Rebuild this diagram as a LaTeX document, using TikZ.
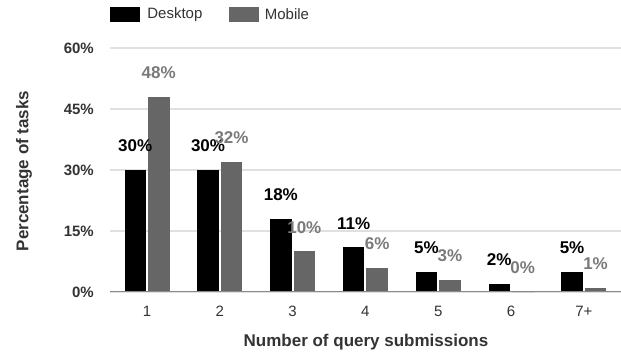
\documentclass[tikz,border=0pt]{standalone}
\usepackage{fontspec}
\setmainfont{Liberation Sans}
\usepackage{tikz}
\usetikzlibrary{positioning}

\definecolor{mobilegray}{HTML}{666666}
\definecolor{labelgray}{HTML}{7A7A7A}
\definecolor{gridgray}{HTML}{E0E0E0}
\definecolor{axisgray}{HTML}{8A8A8A}
\definecolor{textgray}{HTML}{333333}

\tikzset{
  ticklabel/.style={font=\bfseries\fontsize{15}{15}\selectfont, text=textgray, anchor=east, inner sep=0pt},
  catlabel/.style={font=\fontsize{15}{15}\selectfont, text=textgray, inner sep=0pt},
  desklabel/.style={font=\bfseries\fontsize{17}{17}\selectfont, text=black, inner sep=0pt},
  moblabel/.style={desklabel, text=labelgray},
  axistitle/.style={font=\bfseries\fontsize{17}{17}\selectfont, text=textgray, inner sep=0pt},
  legbox/.style={minimum width=30pt, minimum height=15pt, inner sep=0pt},
  legtext/.style={font=\fontsize{15}{15}\selectfont, text=textgray, inner sep=0pt},
  gridline/.style={draw=gridgray, line width=1.5pt},
}

\begin{document}
\begin{tikzpicture}[x=1pt, y=1pt]
  \useasboundingbox (0,0) rectangle (621,355);

  % legend
  \node[legbox, fill=black] (deskkey) at (125,340.5) {};
  \node[legtext, right=7pt of deskkey] (desktxt) {Desktop};
  \node[legbox, fill=mobilegray] (mobkey) at (243.5,340.5) {};
  \node[legtext, right=6pt of mobkey] (mobtxt) {Mobile};

  % grid and y ticks
  \foreach \v in {0,15,30,45,60} {
    \coordinate (gl\v) at (110,63+4.0667*\v);
    \coordinate (gr\v) at (621,63+4.0667*\v);
    \draw[gridline] (gl\v) -- (gr\v);
    \node[ticklabel] (tick\v) at (94,63+4.0667*\v) {\v\%};
  }

  % bars
  \foreach \i/\d/\m/\c in {1/30/48/1, 2/30/32/2, 3/18/10/3, 4/11/6/4, 5/5/3/5, 6/2/0/6, 7/5/1/7+} {
    \pgfmathsetmacro\cx{147+72.8*(\i-1)}
    \fill[black] (\cx-22.5,63) rectangle (\cx-1,63+4.0667*\d);
    \fill[mobilegray] (\cx+1,63) rectangle (\cx+22.5,63+4.0667*\m);
    \node[desklabel] (dl\i) at (\cx-11.75,63+4.0667*\d+24) {\d\%};
    \node[moblabel] (ml\i) at (\cx+11.75,63+4.0667*\m+24) {\m\%};
    \node[catlabel] (cat\i) at (\cx,44) {\c};
  }

  % x axis
  \coordinate (axl) at (110,63);
  \coordinate (axr) at (621,63);
  \draw[axisgray, line width=1pt] (axl) -- (axr);

  % titles
  \node[axistitle] (xtitle) at (366,13) {Number of query submissions};
  \node[axistitle, rotate=90] (ytitle) at (24,184) {Percentage of tasks};
\end{tikzpicture}
\end{document}
